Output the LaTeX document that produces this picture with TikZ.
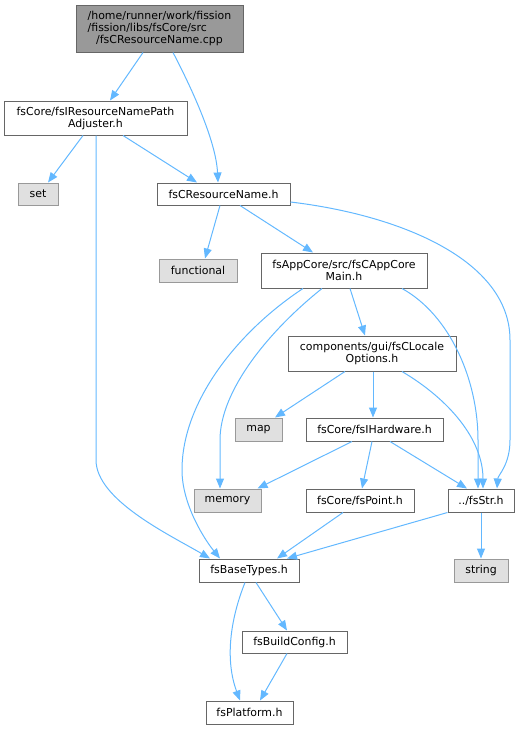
\documentclass[tikz,border=0pt]{standalone}
\usepackage{fontspec}
\setmainfont{DejaVu Sans}
\usetikzlibrary{arrows.meta, calc}
\definecolor{edgeblue}{HTML}{63B8FF}
\definecolor{boxline}{HTML}{666666}
\definecolor{sysfill}{HTML}{E0E0E0}
\definecolor{sysline}{HTML}{999999}
\tikzset{
    sz/.style 2 args = {minimum width=#1*0.75pt, minimum height=#2*0.75pt},
    file/.style = {draw=boxline, fill=white, line width=0.75pt, inner sep=0pt,
        align=center, font=\fontsize{8.2}{9}\selectfont},
    sys/.style = {file, draw=sysline, fill=sysfill},
    root/.style = {file, fill=sysline},
    inc/.style = {draw=edgeblue, line width=0.75pt, -{Triangle[length=7.5pt,width=6pt]}},
}
\begin{document}
\begin{tikzpicture}[x=0.75pt,y=-0.75pt]
\useasboundingbox (0,0) rectangle (520,729);

\node[root, sz={167}{47}] (cpp) at (159.5,28.5) {/home/runner/work/fission\\\makebox[0pt][l]{/fission/libs/fsCore/src}\phantom{/home/runner/work/fission}\\/fsCResourceName.cpp};
\node[file, sz={183}{34}] (adj) at (95.5,118) {fsCore/fsIResourceNamePath\\Adjuster.h};
\node[sys, sz={40}{22}] (set) at (38,194) {set};
\node[file, sz={133}{22}] (rn) at (223.5,194) {fsCResourceName.h};
\node[sys, sz={78}{23}] (func) at (198,270.5) {functional};
\node[file, sz={166}{35}] (appmain) at (344,270.5) {fsAppCore/src/fsCAppCore\\Main.h};
\node[file, sz={168}{35}] (locale) at (372,353.5) {components/gui/fsCLocale\\Options.h};
\node[sys, sz={47}{23}] (map) at (258.5,429.5) {map};
\node[file, sz={137}{23}] (hw) at (374.5,429.5) {fsCore/fsIHardware.h};
\node[sys, sz={67}{23}] (memory) at (227.5,500.5) {memory};
\node[file, sz={108}{23}] (point) at (360,500.5) {fsCore/fsPoint.h};
\node[file, sz={66}{23}] (str) at (481,500.5) {../fsStr.h};
\node[file, sz={100}{23}] (base) at (249,570.5) {fsBaseTypes.h};
\node[sys, sz={54}{23}] (string) at (481,570.5) {string};
\node[file, sz={105}{22}] (build) at (294.5,642) {fsBuildConfig.h};
\node[file, sz={87}{23}] (platform) at (249.5,712.5) {fsPlatform.h};

\draw[inc] ($(cpp.south)+(-16.5,0)$) -- ($(adj.north)+(14.5,0)$);
\draw[inc] ($(cpp.south)+(13.5,0)$) .. controls (190,85) and (216,140) .. ($(rn.north)+(-5.5,0)$);

\draw[inc] ($(adj.south)+(-12.5,0)$) -- ($(set.north)+(10,0)$);
\draw[inc] ($(adj.south)+(0.5,0)$) -- (96,460) .. controls (96,500) and (170,535) .. ($(base.north)+(-39,0)$);
\draw[inc] ($(adj.south)+(27.5,0)$) -- ($(rn.north)+(-26.5,0)$);

\draw[inc] ($(rn.south)+(-3.5,0)$) -- ($(func.north)+(7,0)$);
\draw[inc] ($(rn.south)+(16.5,0)$) -- ($(appmain.north)+(-31,0)$);
\draw[inc] ($(rn.east)+(0,8)$) .. controls (400,215) and (510,260) .. (510,340) -- (510,440) .. controls (510,465) and (498,475) .. ($(str.north)+(16,0)$);

\draw[inc] ($(appmain.south)+(-41,0)$) .. controls (240,330) and (182,400) .. (182,470) .. controls (182,505) and (205,540) .. ($(base.north)+(-29,0)$);
\draw[inc] ($(appmain.south)+(-22,0)$) .. controls (270,330) and (220,390) .. (220,440) -- ($(memory.north)+(-7.5,0)$);
\draw[inc] ($(appmain.south)+(6,0)$) -- ($(locale.north)+(-7,0)$);
\draw[inc] ($(appmain.south)+(58,0)$) .. controls (450,315) and (478,380) .. (478,440) -- ($(str.north)+(-3,0)$);

\draw[inc] ($(locale.south)+(-27,0)$) -- ($(map.north)+(16.5,0)$);
\draw[inc] ($(locale.south)+(1,0)$) -- ($(hw.north)+(-1.5,0)$);
\draw[inc] ($(locale.south)+(30,0)$) .. controls (450,400) and (483,440) .. ($(str.north)+(2,0)$);

\draw[inc] ($(hw.south)+(-22.5,0)$) -- ($(memory.north east)+(-4,0)$);
\draw[inc] ($(hw.south)+(-2.5,0)$) -- ($(point.north)+(2,0)$);
\draw[inc] ($(hw.south)+(15.5,0)$) -- ($(str.north)+(-14,0)$);

\draw[inc] ($(point.south)+(-17,0)$) -- ($(base.north)+(28,0)$);
\draw[inc] (str.south west) -- ($(base.north)+(38,0)$);
\draw[inc] (str.south) -- (string.north);

\draw[inc] ($(base.south)+(7,0)$) -- ($(build.north)+(-7.5,0)$);
\draw[inc] ($(base.south)+(-4,0)$) .. controls (230,620) and (225,660) .. ($(platform.north)+(-9.5,0)$);
\draw[inc] ($(build.south)+(-7.5,0)$) -- ($(platform.north)+(10.5,0)$);

\end{tikzpicture}
\end{document}
